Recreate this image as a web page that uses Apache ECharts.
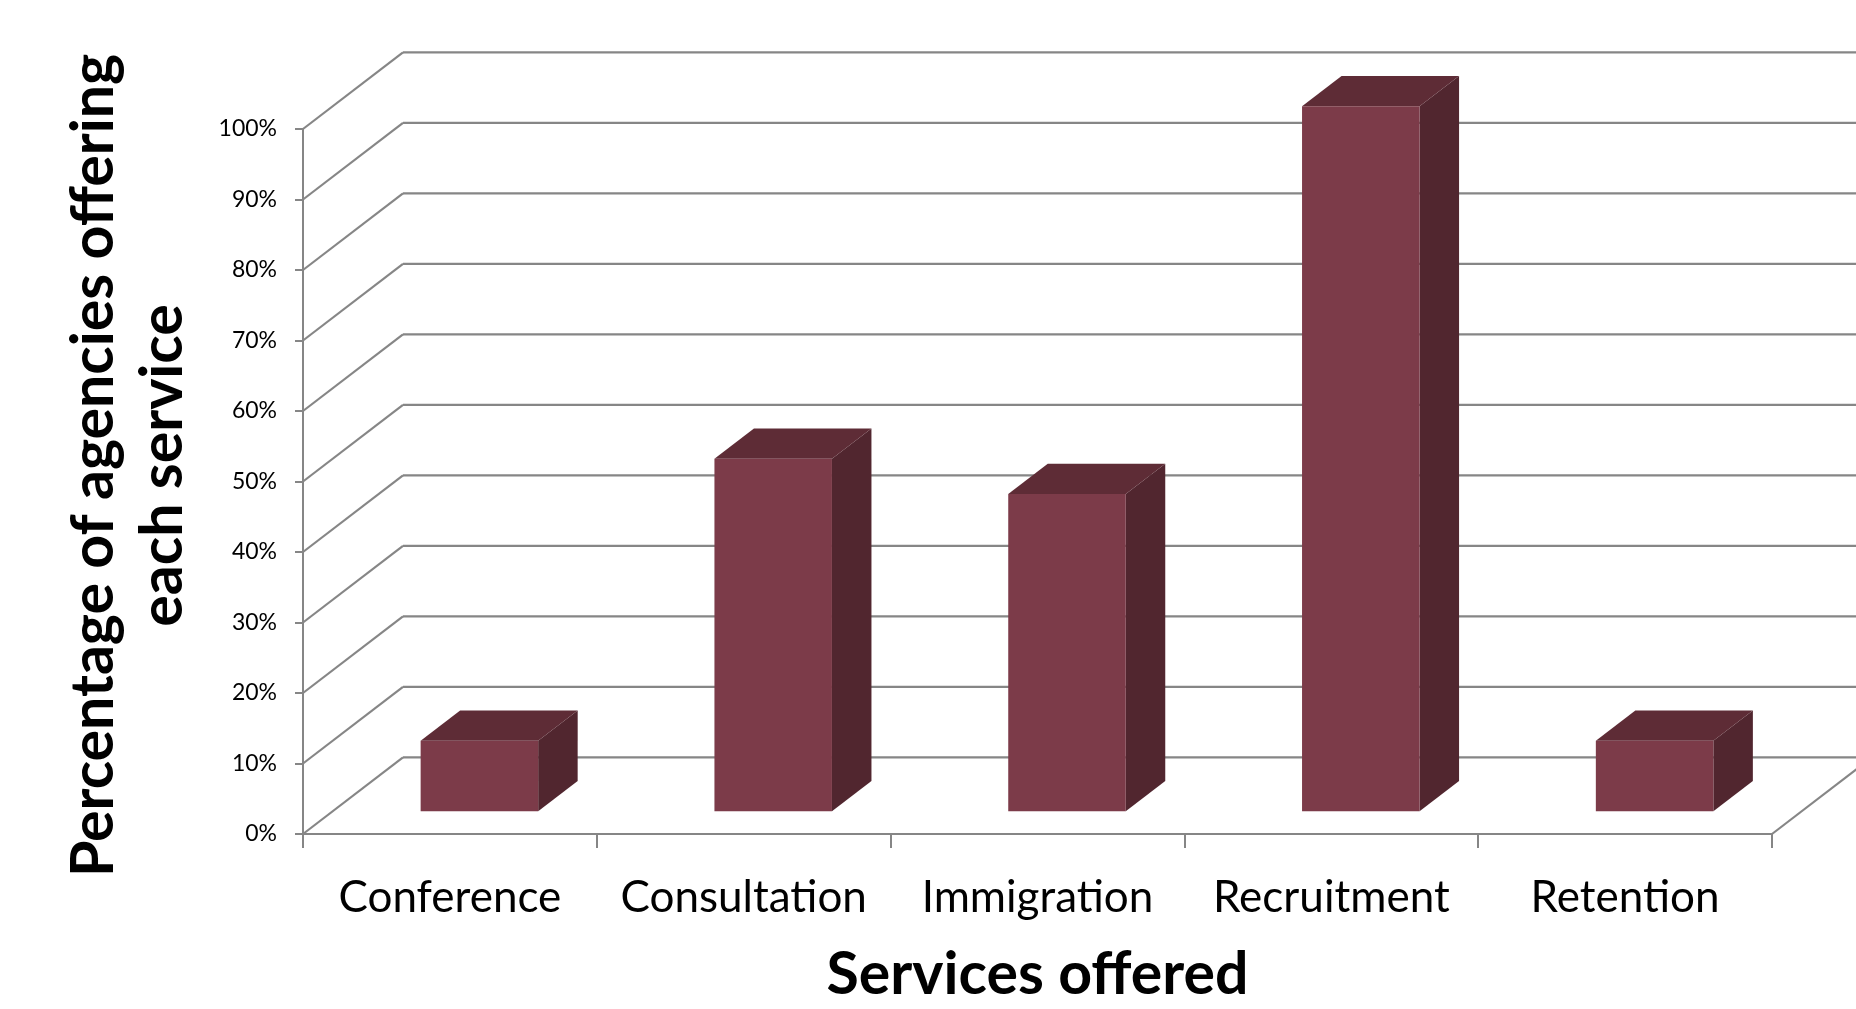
<!DOCTYPE html>
<html>
<head>
<meta charset="utf-8">
<script src="https://cdn.jsdelivr.net/npm/echarts@6/dist/echarts.min.js"></script>
<style>
  html, body { margin: 0; padding: 0; background: #ffffff; }
  #chart { width: 1856px; height: 1009px; }
</style>
</head>
<body>
<div id="chart"></div>
<script>
// ---- data ----
const categories = ['Conference', 'Consultation', 'Immigration', 'Recruitment', 'Retention'];
const percentOffering = [10, 50, 45, 100, 10];
const yTicks = [0, 10, 20, 30, 40, 50, 60, 70, 80, 90, 100];

// ---- 3D look (style constants) ----
const DX = 100, DY = -76.7;        // wall depth offset in px
const F0 = 0.295, F1 = 0.69;       // bar depth placement (fraction of wall depth)
const LINE = '#868686';
const FRONT = '#7C3B49', TOP = '#5E2C36', SIDE = '#51262F';

const chart = echarts.init(document.getElementById('chart'), null, { renderer: 'canvas' });

function renderWall(params, api) {
  const cs = params.coordSys;
  const y = api.coord([0, api.value(1)])[1];
  const x0 = cs.x, x1 = cs.x + cs.width;
  const st = { stroke: LINE, lineWidth: 2.2 };
  const children = [
    { type: 'line', shape: { x1: x0, y1: y, x2: x0 + DX, y2: y + DY }, style: st },
    { type: 'line', shape: { x1: x0 + DX, y1: y + DY, x2: x1 + DX + 200, y2: y + DY }, style: st }
  ];
  if (api.value(1) === 0) {
    children.push({ type: 'line', shape: { x1: x1, y1: y, x2: x1 + DX, y2: y + DY }, style: st });
  }
  return { type: 'group', children: children };
}

function renderBar(params, api) {
  const cat = api.value(0), val = api.value(1);
  const top = api.coord([cat, val]);
  const base = api.coord([cat, 0]);
  const cw = api.size([1, 0])[0];
  const bw = cw * 0.4;
  const xl = top[0] + DX * F0 - bw / 2;
  const xr = xl + bw;
  const yT = top[1] + DY * F0;
  const yB = base[1] + DY * F0;
  const ddx = DX * (F1 - F0), ddy = DY * (F1 - F0);
  return {
    type: 'group',
    children: [
      { type: 'polygon', shape: { points: [[xr, yT], [xr + ddx, yT + ddy], [xr + ddx, yB + ddy], [xr, yB]] }, style: { fill: SIDE } },
      { type: 'polygon', shape: { points: [[xl, yT], [xr, yT], [xr + ddx, yT + ddy], [xl + ddx, yT + ddy]] }, style: { fill: TOP } },
      { type: 'rect', shape: { x: xl, y: yT, width: bw, height: yB - yT }, style: { fill: FRONT } }
    ]
  };
}

const option = {
  backgroundColor: '#ffffff',
  animation: false,
  grid: { left: 303, top: 129, width: 1469, height: 710, containLabel: false },
  xAxis: {
    type: 'category',
    data: categories,
    boundaryGap: true,
    axisLine: { show: true, lineStyle: { color: LINE, width: 2 } },
    axisTick: { show: true, interval: 0, alignWithLabel: false, length: 14, lineStyle: { color: LINE, width: 2 } },
    axisLabel: { interval: 0, color: '#000000', fontFamily: 'Lato', fontSize: 44, margin: 42 },
    splitLine: { show: false },
    name: 'Services offered',
    nameLocation: 'middle',
    nameGap: 111,
    nameTextStyle: { color: '#000000', fontFamily: 'Lato', fontWeight: 'bold', fontSize: 59 }
  },
  yAxis: {
    type: 'value',
    min: 0, max: 100, interval: 10,
    axisLine: { show: true, lineStyle: { color: LINE, width: 2 } },
    axisTick: { show: true, length: 8, lineStyle: { color: LINE, width: 2 } },
    axisLabel: { color: '#000000', fontFamily: 'Lato', fontSize: 23, margin: 26, formatter: '{value}%' },
    splitLine: { show: false },
    name: 'Percentage of agencies offering\neach service',
    nameLocation: 'middle',
    nameRotate: 90,
    nameGap: 106,
    nameTextStyle: { color: '#000000', fontFamily: 'Lato', fontWeight: 'bold', fontSize: 59, lineHeight: 69, align: 'center', padding: [0, 0, 0, 32] }
  },
  series: [
    {
      type: 'custom',
      name: 'walls',
      z: 1,
      clip: false,
      silent: true,
      renderItem: renderWall,
      data: yTicks.map(function (t) { return [0, t]; })
    },
    {
      type: 'custom',
      name: 'Percentage of agencies',
      z: 3,
      clip: false,
      renderItem: renderBar,
      data: percentOffering.map(function (v, i) { return [i, v]; })
    }
  ]
};

chart.setOption(option);
</script>
</body>
</html>
